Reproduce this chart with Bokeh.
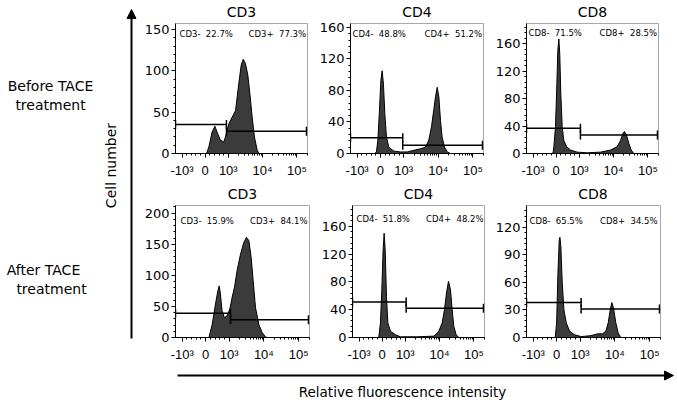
import numpy as np
from bokeh.plotting import figure
from bokeh.layouts import row, column
from bokeh.models import FixedTicker, Range1d, Arrow, NormalHead
from bokeh.core.properties import value
from bokeh.embed import file_html
from bokeh.resources import INLINE

# ---------------- data ----------------
markers = ["CD3", "CD4", "CD8"]
x_tick_values = [-1000, 0, 1000, 10000, 100000]
x_tick_labels = ["-10³", "0", "10³", "10⁴", "10⁵"]

# Before TACE treatment
before_cd3_intensity = [60, 160, 300, 420, 540, 660, 810, 920, 1040, 1300, 1630, 2030, 2380,
                        2720, 3160, 3710, 4240, 4970, 5780, 6950, 7940]
before_cd3_count = [0, 8, 26, 33, 24, 16, 14, 24, 36, 44, 52, 85, 107, 114, 109, 95, 73, 44, 20, 4, 0]

before_cd4_intensity = [-250, -170, -110, -40, 20, 75, 130, 190, 260, 360, 580, 860, 1260, 1960,
                        3050, 4280, 5330, 6370, 7400, 8300, 9310, 10400, 11600, 12900, 15200,
                        18100, 22600]
before_cd4_count = [0, 2, 17, 55, 93, 105, 88, 50, 21, 8, 3, 2, 2, 4, 6, 8, 17, 34, 55, 72, 84,
                    72, 42, 21, 8, 2, 0]

before_cd8_intensity = [-170, -130, -100, -30, 30, 70, 115, 155, 200, 260, 330, 450, 620, 910,
                        1700, 4150, 8090, 12700, 15900, 18600, 20700, 23700, 27700, 32500, 38700]
before_cd8_count = [0, 2, 10, 39, 102, 150, 167, 145, 87, 39, 19, 10, 5, 2, 1, 2, 5, 10, 19, 29,
                    32, 27, 15, 5, 0]

# After TACE treatment
after_cd3_intensity = [140, 280, 420, 520, 580, 630, 700, 800, 920, 1050, 1230, 1430, 1700, 2130,
                       2650, 3160, 3690, 4300, 4910, 5730, 7140, 8900, 11100, 12400]
after_cd3_count = [0, 21, 54, 75, 83, 70, 43, 32, 35, 46, 65, 81, 108, 134, 153, 161, 156, 129,
                   91, 48, 21, 8, 1, 0]

after_cd4_intensity = [-150, -75, -15, 40, 85, 130, 185, 245, 360, 575, 790, 2220, 6790, 9480,
                       11860, 13870, 15850, 18150, 20750, 23210, 25960, 30360, 36300]
after_cd4_count = [0, 21, 69, 126, 150, 126, 59, 21, 9, 4, 1, 1, 2, 9, 21, 40, 64, 81, 69, 40,
                   16, 4, 0]

after_cd8_intensity = [-60, 0, 55, 110, 140, 180, 240, 310, 410, 550, 760, 1070, 2060, 3190, 4420,
                       5510, 6420, 7320, 8160, 9100, 10610, 12370, 14730]
after_cd8_count = [0, 16, 70, 106, 109, 99, 59, 30, 16, 7, 3, 1, 2, 4, 4, 7, 16, 30, 38, 32, 16,
                   5, 0]

before_neg_pct = [22.7, 48.8, 71.5]
before_pos_pct = [77.3, 51.2, 28.5]
after_neg_pct = [15.9, 51.8, 65.5]
after_pos_pct = [84.1, 48.2, 34.5]

before_y_ticks = [[0, 50, 100, 150], [0, 40, 80, 120, 160], [0, 40, 80, 120, 160]]
after_y_ticks = [[0, 50, 100, 150, 200], [0, 40, 80, 120, 160], [0, 30, 60, 90, 120]]
before_y_max = [157.3, 165, 189.6]
after_y_max = [212.4, 190, 143.6]

# gates: split intensity, level of the negative gate, level of the positive gate
before_gate_split = [920, 960, 1080]
before_gate_neg_level = [35, 20, 37]
before_gate_pos_level = [27, 10.5, 27]
after_gate_split = [1100, 1060, 1070]
after_gate_neg_level = [39, 51, 38]
after_gate_pos_level = [28.5, 42, 31]
GATE_MAX = 190000

# ---------------- biexponential-like display transform ----------------
LIN = 0.673          # decades occupied by the linear part 0..1000
X0, X1 = -0.865, 2.981


def biex(v):
    v = np.asarray(v, dtype=float)
    a = np.abs(v)
    d = np.where(a <= 1000, a / 1000 * LIN, LIN + np.log10(np.maximum(a, 1000) / 1000))
    return np.sign(v) * d


major_x = [round(float(t), 4) for t in biex(x_tick_values)]
minor_vals = [s * k for s in (-1, 1) for k in (200, 400, 600, 800)]
minor_vals += [k * 10 ** n for n in (3, 4) for k in range(2, 10)] + [200000]
minor_x = [round(float(t), 4) for t in biex(minor_vals)]
x_overrides = dict(zip(major_x, x_tick_labels))

FONT = "DejaVu Sans"


def blank(width, height):
    f = figure(width=width, height=height, x_range=Range1d(0, width), y_range=Range1d(0, height),
               toolbar_location=None, output_backend="svg", min_border=0)
    f.axis.visible = False
    f.grid.visible = False
    f.outline_line_color = None
    return f


def make_panel(marker, inten, counts, ymax, yticks, neg_pct, pos_pct, split, neg_lvl, pos_lvl,
               width, height, bl, br, bt, bb, txt_left, txt_right, txt_down):
    fw = width - bl - br
    fh = height - bt - bb
    p = figure(width=width, height=height, x_range=Range1d(X0, X1), y_range=Range1d(0, ymax),
               toolbar_location=None, output_backend="svg",
               min_border_left=bl, min_border_right=br, min_border_top=bt, min_border_bottom=bb)
    p.grid.visible = False
    p.outline_line_color = "#a8a8a8"

    xs = biex(inten)
    p.varea(x=xs, y1=0, y2=counts, fill_color="#3b3b3b")
    p.line(xs, counts, line_color="black", line_width=1)

    xs_split = float(biex(split))
    x_end = float(biex(GATE_MAX))
    p.segment(x0=[X0, xs_split], y0=[neg_lvl, pos_lvl], x1=[xs_split, x_end], y1=[neg_lvl, pos_lvl],
              line_color="black", line_width=1.5)
    p.scatter(x=[X0, xs_split, xs_split, x_end], y=[neg_lvl, neg_lvl, pos_lvl, pos_lvl],
              marker="dash", angle=np.pi / 2, size=9, line_color="black", line_width=1.5)

    ux = (X1 - X0) / fw
    uy = ymax / fh
    p.text(x=[X0 + txt_left * ux], y=[ymax - txt_down * uy], text=[f"{marker}-\u00a0 {neg_pct}%"],
           text_font=value(FONT), text_font_size=value("8.5px"), text_align="left",
           text_baseline="middle", text_color="black")
    p.text(x=[X1 - txt_right * ux], y=[ymax - txt_down * uy], text=[f"{marker}+\u00a0 {pos_pct}%"],
           text_font=value(FONT), text_font_size=value("8.5px"), text_align="right",
           text_baseline="middle", text_color="black")

    step = yticks[1] - yticks[0]
    yminor = np.arange(0, ymax, step / 5).tolist()
    p.xaxis.ticker = FixedTicker(ticks=major_x, minor_ticks=minor_x)
    p.xaxis.major_label_overrides = x_overrides
    p.xaxis.major_label_text_font = "Liberation Sans"
    p.xaxis.major_label_text_font_size = "13px"
    p.xaxis.major_label_standoff = 5
    p.yaxis.ticker = FixedTicker(ticks=yticks, minor_ticks=yminor)
    p.yaxis.major_label_text_font = FONT
    p.yaxis.major_label_text_font_size = "13px"
    p.yaxis.major_label_standoff = 2
    for ax in (p.xaxis, p.yaxis):
        ax.axis_line_color = "black"
        ax.axis_line_width = 1
        ax.major_tick_line_color = "black"
        ax.minor_tick_line_color = "black"
        ax.major_tick_out = 4
        ax.major_tick_in = 0
        ax.minor_tick_out = 2
        ax.minor_tick_in = 0
        ax.major_label_text_color = "black"
    return p


before_data = [(before_cd3_intensity, before_cd3_count), (before_cd4_intensity, before_cd4_count),
               (before_cd8_intensity, before_cd8_count)]
after_data = [(after_cd3_intensity, after_cd3_count), (after_cd4_intensity, after_cd4_count),
              (after_cd8_intensity, after_cd8_count)]

# geometry (width, left border, right border)
top_geom = [(172, 35, 5), (180, 38, 9), (185, 34, 19)]
bot_geom = [(172, 35, 3), (180, 40, 8), (185, 33, 17)]
top_txt = [(4, 1.5, 10), (2, 1.5, 10), (2, 1.5, 9)]
bot_txt = [(5, 2, 15), (4, 1, 13), (3, 3, 15)]
PANEL_W = sum(g[0] for g in top_geom)   # 537

top_panels, bot_panels = [], []
top_centers, bot_centers = [], []
off = 0
for i in range(3):
    w, bl, br = top_geom[i]
    tl, tr, td = top_txt[i]
    top_panels.append(make_panel(markers[i], before_data[i][0], before_data[i][1], before_y_max[i],
                                 before_y_ticks[i], before_neg_pct[i], before_pos_pct[i],
                                 before_gate_split[i], before_gate_neg_level[i],
                                 before_gate_pos_level[i], w, 168, bl, br, 5, 33, tl, tr, td))
    top_centers.append(off + bl + (w - bl - br) / 2)
    off += w
off = 0
for i in range(3):
    w, bl, br = bot_geom[i]
    tl, tr, td = bot_txt[i]
    bot_panels.append(make_panel(markers[i], after_data[i][0], after_data[i][1], after_y_max[i],
                                 after_y_ticks[i], after_neg_pct[i], after_pos_pct[i],
                                 after_gate_split[i], after_gate_neg_level[i],
                                 after_gate_pos_level[i], w, 164, bl, br, 5, 27, tl, tr, td))
    bot_centers.append(off + bl + (w - bl - br) / 2)
    off += w

# panel titles
t1 = blank(PANEL_W, 18)
t1.text(x=top_centers, y=[7] * 3, text=markers, text_font=value(FONT),
        text_font_size=value("14px"), text_align="center", text_baseline="middle",
        text_color="black")
t2 = blank(PANEL_W, 14)
t2.text(x=bot_centers, y=[7] * 3, text=markers, text_font=value(FONT),
        text_font_size=value("14px"), text_align="center", text_baseline="middle",
        text_color="black")

# left annotation strip
lf = blank(140, 402)
lf.text(x=[50, 50, 43, 51], y=[316.5, 298, 133, 113.5],
        text=["Before TACE", "treatment", "After TACE", "treatment"],
        text_font=value(FONT), text_font_size=value("14px"), text_align="center",
        text_baseline="middle", text_color="black")
lf.text(x=[110], y=[237], text=["Cell number"], angle=np.pi / 2, text_font=value(FONT),
        text_font_size=value("14px"), text_align="center", text_baseline="middle",
        text_color="black")
lf.add_layout(Arrow(end=NormalHead(size=9, fill_color="black", line_color="black"),
                    x_start=131, y_start=64, x_end=131, y_end=393, line_width=2,
                    line_color="black"))

# bottom annotation strip
bf = blank(PANEL_W, 38)
bf.add_layout(Arrow(end=NormalHead(size=9, fill_color="black", line_color="black"),
                    x_start=37, y_start=27, x_end=533, y_end=27, line_width=2, line_color="black"))
bf.text(x=[262], y=[11], text=["Relative fluorescence intensity"], text_font=value(FONT),
        text_font_size=value("13.5px"), text_align="center", text_baseline="middle",
        text_color="black")

layout = row(lf, column(t1, row(*top_panels), t2, row(*bot_panels), bf))

open("out.html", "w").write(file_html(layout, INLINE, "Flow cytometry"))
